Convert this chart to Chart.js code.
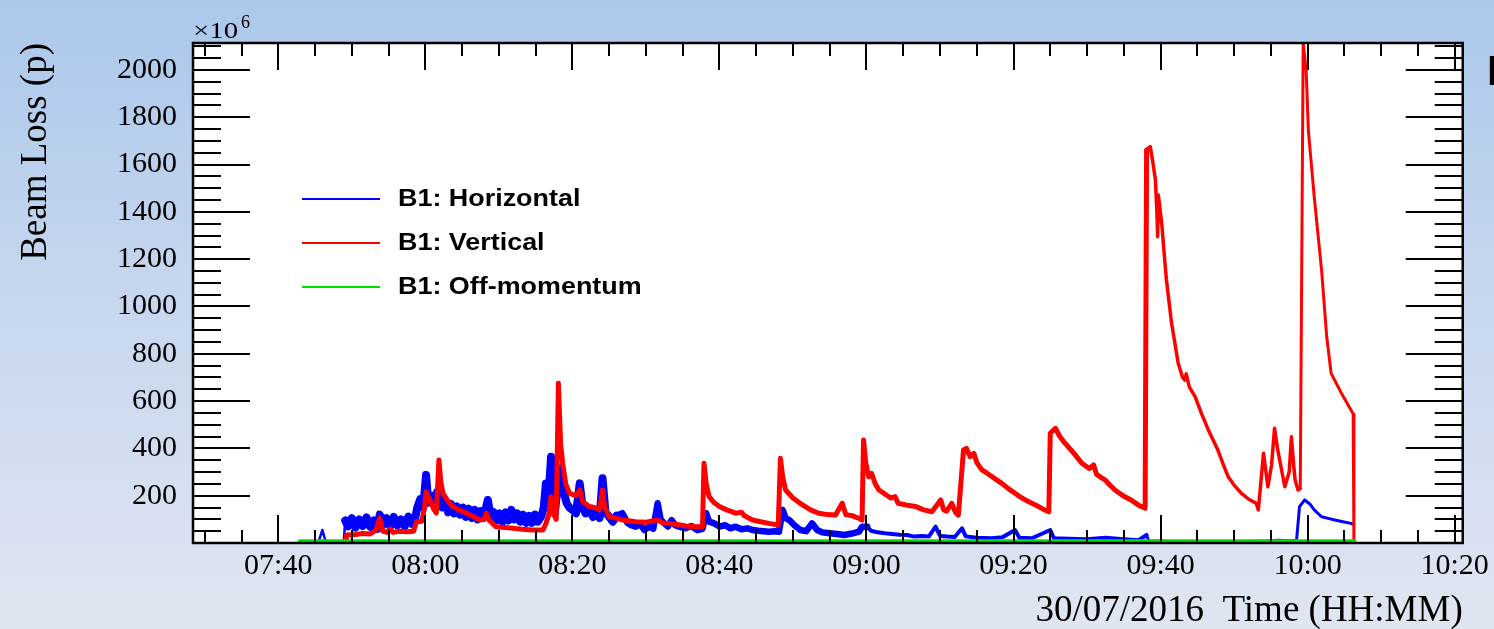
<!DOCTYPE html>
<html>
<head>
<meta charset="utf-8">
<script src="https://cdn.jsdelivr.net/npm/chart.js@4.4.1/dist/chart.umd.min.js"></script>
<style>
  html, body { margin: 0; padding: 0; overflow: hidden; }
  body { width: 1494px; height: 629px; background: linear-gradient(180deg, #abc8eb 0%, #c6d6ee 45%, #dfe6f1 100%); }
  #wrap { position: relative; width: 1494px; height: 629px; }
</style>
</head>
<body>
<div id="wrap"><canvas id="lossChart"></canvas></div>
<script>
// time in minutes since midnight, losses in units of 1e6 protons
const xTickValues = [460, 480, 500, 520, 540, 560, 580, 600, 620];
const yTickValues = [200, 400, 600, 800, 1000, 1200, 1400, 1600, 1800, 2000];
const seriesNames = ['B1: Horizontal', 'B1: Vertical', 'B1: Off-momentum'];
const seriesColors = ['#0000ff', '#ff0000', '#00e000'];

const horizontal = [
  [462.9, 3], [464.0, 6], [465.5, 8], [466.0, 55], [466.4, 10], [467.5, 6], [468.9, 4],
  [469.1, 95], [469.5, 70], [470.0, 105], [470.5, 65], [471.0, 100], [471.5, 72], [472.0, 108],
  [472.5, 68], [473.0, 95], [473.5, 60], [473.8, 120], [474.2, 75], [474.7, 105], [475.2, 70],
  [475.7, 110], [476.2, 75], [476.7, 100], [477.2, 70], [477.7, 112], [478.2, 80], [478.6, 100],
  [478.9, 150], [479.3, 185], [479.7, 150], [480.1, 288], [480.4, 170], [480.8, 200], [481.2, 165],
  [481.6, 215], [481.9, 190], [482.3, 150], [482.7, 180], [483.1, 130], [483.5, 165], [483.9, 125],
  [484.3, 155], [484.7, 120], [485.1, 150], [485.5, 110], [485.9, 145], [486.3, 105], [486.7, 140],
  [487.1, 100], [487.5, 135], [487.9, 105], [488.5, 182], [488.9, 110], [489.3, 130], [489.7, 95],
  [490.1, 125], [490.5, 90], [490.9, 130], [491.3, 95], [491.7, 140], [492.1, 100], [492.5, 125],
  [492.9, 90], [493.3, 120], [493.7, 85], [494.1, 115], [494.5, 85], [494.9, 120], [495.3, 90],
  [495.8, 115], [496.1, 150], [496.4, 252], [496.7, 170], [497.1, 365], [497.4, 190], [497.6, 126],
  [498.0, 230], [498.5, 316], [498.8, 220], [499.2, 170], [499.6, 150], [500.0, 140], [500.5, 126],
  [501.0, 252], [501.4, 150], [501.8, 125], [502.3, 140], [502.8, 110], [503.3, 125], [503.7, 105],
  [504.1, 274], [504.5, 130], [505.0, 111], [505.5, 90], [506.0, 115], [506.8, 126], [507.5, 85],
  [508.0, 75], [508.6, 69], [509.2, 80], [509.8, 55], [510.5, 70], [511.0, 60], [511.6, 168],
  [512.0, 100], [512.5, 83], [513.0, 70], [513.5, 97], [514.0, 75], [514.5, 69], [515.4, 62],
  [516.2, 72], [517.0, 55], [517.7, 60], [518.2, 126], [518.6, 90], [519.3, 83], [520.0, 70],
  [520.8, 75], [521.5, 62], [522.2, 69], [523.0, 58], [523.8, 62], [524.5, 55], [525.3, 52],
  [526.0, 50], [526.7, 48], [527.5, 50], [528.1, 48], [528.6, 140], [529.0, 105], [529.5, 97],
  [530.2, 75], [531.0, 55], [531.8, 50], [532.6, 83], [533.3, 55], [534.0, 45], [535.0, 41],
  [536.0, 38], [537.0, 34], [538.0, 40], [539.0, 48], [539.4, 69], [540.1, 69], [540.6, 52],
  [541.5, 45], [542.5, 41], [543.5, 38], [544.5, 35], [545.5, 34], [546.5, 27], [547.5, 30],
  [548.5, 28], [549.4, 69], [550.0, 30], [551.0, 27], [552.0, 25], [553.0, 62], [553.5, 28],
  [555.0, 22], [557.0, 20], [558.5, 24], [560.2, 55], [560.8, 22], [562.5, 20], [565.0, 55],
  [565.5, 20], [567.5, 18], [570.0, 16], [572.5, 22], [575.0, 16], [577.0, 12], [578.1, 34],
  [578.4, 8], [582.0, 6], [586.0, 5], [590.0, 5], [594.5, 8], [596.0, 12], [597.5, 10],
  [598.5, 12], [598.9, 154], [599.6, 182], [600.3, 165], [600.9, 140], [601.9, 111], [602.8, 104],
  [603.7, 97], [604.8, 90], [605.9, 83], [606.1, 80]
];

const vertical = [
  [469.2, 0], [469.3, 34], [470.5, 36], [471.5, 40], [472.5, 38], [473.3, 55], [473.8, 105],
  [474.2, 50], [474.8, 45], [475.2, 60], [475.6, 45], [476.5, 50], [477.5, 48], [478.4, 50],
  [478.8, 90], [479.5, 92], [479.9, 150], [480.1, 217], [480.6, 180], [481.2, 140], [481.5, 127],
  [481.85, 351], [482.1, 260], [482.4, 210], [483.0, 180], [483.7, 154], [484.6, 140], [485.6, 126],
  [486.5, 112], [487.4, 97], [488.0, 100], [488.3, 126], [488.7, 95], [489.6, 69], [490.8, 66],
  [491.9, 62], [493.2, 58], [494.6, 55], [496.0, 55], [496.4, 83], [496.8, 120], [497.1, 196],
  [497.5, 120], [497.8, 100], [498.1, 675], [498.4, 420], [498.7, 330], [499.1, 250], [499.6, 210],
  [500.5, 200], [501.0, 224], [501.4, 175], [502.3, 154], [503.0, 150], [503.7, 140], [504.1, 224],
  [504.4, 150], [505.0, 111], [506.0, 105], [506.8, 97], [508.6, 90], [510.0, 88], [511.6, 97],
  [512.3, 85], [513.2, 83], [514.3, 78], [515.4, 72], [516.5, 70], [517.7, 69], [517.9, 337],
  [518.2, 250], [518.6, 196], [519.3, 170], [520.0, 154], [521.0, 140], [522.2, 126], [523.0, 130],
  [523.4, 115], [524.5, 97], [525.6, 90], [526.7, 83], [528.0, 76], [528.3, 358], [528.6, 280],
  [529.0, 224], [530.0, 190], [531.3, 161], [532.4, 140], [533.5, 126], [534.7, 120], [535.8, 118],
  [536.7, 168], [537.2, 120], [538.1, 115], [539.0, 104], [539.4, 97], [539.6, 435], [539.9, 340],
  [540.3, 280], [540.7, 294], [541.2, 250], [541.7, 224], [542.6, 205], [543.3, 190], [543.9, 196],
  [544.3, 168], [545.5, 160], [546.7, 154], [547.8, 140], [548.9, 132], [550.1, 182], [550.5, 140],
  [550.9, 135], [551.6, 168], [552.1, 130], [552.5, 118], [553.2, 393], [553.6, 400], [554.1, 365],
  [554.6, 379], [555.0, 340], [555.7, 309], [556.4, 295], [557.1, 280], [557.8, 265], [558.4, 252],
  [559.3, 230], [560.2, 210], [560.9, 195], [561.6, 182], [562.5, 168], [563.4, 154], [564.1, 142],
  [564.8, 132], [565.0, 464], [565.7, 485], [566.3, 450], [567.0, 422], [568.2, 380], [569.3, 337],
  [570.3, 315], [570.9, 330], [571.3, 290], [572.0, 275], [572.5, 266], [573.1, 245], [573.8, 224],
  [574.9, 200], [576.1, 180], [577.0, 160], [577.9, 147], [578.1, 1662], [578.6, 1676], [579.0, 1600],
  [579.3, 1535], [579.5, 1400], [579.6, 1295], [579.7, 1471], [579.9, 1420], [580.2, 1337], [580.5, 1220],
  [580.8, 1112], [581.5, 929], [582.4, 760], [583.0, 700], [583.3, 689], [583.5, 715], [583.9, 660],
  [584.7, 619], [585.6, 545], [586.5, 478], [587.8, 393], [588.5, 335], [589.2, 280], [590.0, 245],
  [591.0, 210], [592.0, 185], [593.0, 168], [593.3, 140], [594.0, 379], [594.6, 238], [595.1, 330],
  [595.5, 485], [595.9, 400], [596.2, 351], [596.9, 238], [597.5, 300], [597.8, 449], [598.1, 330],
  [598.3, 266], [598.7, 224], [599.0, 230], [599.4, 2112], [599.8, 2000], [600.1, 1746], [600.9, 1464],
  [601.9, 1154], [602.6, 872], [603.2, 717], [604.6, 633], [605.9, 562], [606.2, 545], [606.3, 0]
];

const offMomentum = [
  [462.9, 8], [480.0, 8], [520.0, 8], [560.0, 8], [606.4, 8]
];

const toPoints = rows => rows.map(r => ({ x: r[0], y: r[1] }));
const hhmm = v => {
  const h = Math.floor(v / 60), m = Math.round(v - h * 60);
  return String(h).padStart(2, '0') + ':' + String(m).padStart(2, '0');
};

// the traces are noisy: the noise band is shown as a thicker stroke
const blueWidth = t => t < 469 ? 2.5 : t < 506 ? 8 : t < 540 ? 6.5 : t < 578 ? 4 : 3;
const redWidth = t => t < 578 ? 5 : t < 599 ? 3.5 : 3;

// ROOT-like frame: white pad, inward ticks on all four sides, legend and exponent
const rootFrame = {
  id: 'rootFrame',
  beforeDatasetsDraw(chart) {
    const { ctx, chartArea: a } = chart;
    ctx.save();
    ctx.fillStyle = '#ffffff';
    ctx.fillRect(a.left, a.top, a.right - a.left, a.bottom - a.top);
    ctx.restore();
  },
  afterDatasetsDraw(chart) {
    const { ctx, chartArea: a, scales } = chart;
    const xs = scales.x, ys = scales.y;
    ctx.save();
    ctx.strokeStyle = '#000';
    ctx.lineWidth = 2;
    ctx.beginPath();
    for (let v = 450; v <= xs.max; v += 5) {
      const px = Math.round(xs.getPixelForValue(v));
      const major = v % 20 === 0;
      ctx.moveTo(px, a.bottom); ctx.lineTo(px, a.bottom - (major ? 28 : 13));
      ctx.moveTo(px, a.top); ctx.lineTo(px, a.top + (major ? 27 : 13));
    }
    for (let v = 50; v <= ys.max; v += 50) {
      const py = Math.round(ys.getPixelForValue(v));
      const major = v % 200 === 0;
      ctx.moveTo(a.left, py); ctx.lineTo(a.left + (major ? 57 : 28), py);
      ctx.moveTo(a.right, py); ctx.lineTo(a.right - (major ? 57 : 28), py);
    }
    ctx.stroke();
    ctx.lineWidth = 2.5;
    ctx.strokeRect(a.left, a.top, a.right - a.left, a.bottom - a.top);

    // legend
    const rows = [199, 243, 287];
    seriesNames.forEach((name, i) => {
      ctx.strokeStyle = seriesColors[i];
      ctx.lineWidth = 2;
      ctx.beginPath();
      ctx.moveTo(302, rows[i]); ctx.lineTo(380, rows[i]);
      ctx.stroke();
      ctx.save();
      ctx.translate(398, rows[i]);
      ctx.scale(1.17, 1);
      ctx.fillStyle = '#000';
      ctx.font = 'bold 23px "Liberation Sans", Arial, sans-serif';
      ctx.textBaseline = 'middle';
      ctx.fillText(name, 0, 1);
      ctx.restore();
    });

    // exponent above the y axis
    ctx.fillStyle = '#000';
    ctx.textBaseline = 'alphabetic';
    ctx.save();
    ctx.translate(193, 38);
    ctx.scale(1.2, 1);
    ctx.font = '24px "Liberation Serif", "Times New Roman", serif';
    ctx.fillText('\u00d710', 0, 0);
    ctx.restore();
    ctx.font = '18px "Liberation Serif", "Times New Roman", serif';
    ctx.fillText('6', 241, 28);

    // clipped letter at the right edge
    ctx.font = 'bold 42px "Liberation Sans", Arial, sans-serif';
    ctx.fillText('B', 1487, 85);
    ctx.restore();
  }
};

const serif = '"Liberation Serif", "Times New Roman", serif';

new Chart(document.getElementById('lossChart'), {
  type: 'line',
  data: {
    datasets: [
      { label: seriesNames[2], data: toPoints(offMomentum), borderColor: seriesColors[2], borderWidth: 3.5 },
      {
        label: seriesNames[1], data: toPoints(vertical), borderColor: seriesColors[1], borderWidth: 3,
        segment: { borderWidth: c => redWidth(vertical[c.p0DataIndex][0]) }
      },
      {
        label: seriesNames[0], data: toPoints(horizontal), borderColor: seriesColors[0], borderWidth: 2.5,
        segment: { borderWidth: c => blueWidth(horizontal[c.p0DataIndex][0]) }
      }
    ]
  },
  options: {
    responsive: true,
    maintainAspectRatio: false,
    animation: false,
    parsing: false,
    elements: {
      point: { radius: 0 },
      line: { tension: 0, borderJoinStyle: 'round', borderCapStyle: 'round', fill: false }
    },
    layout: { padding: { top: 43, right: 29, left: 0, bottom: 0 } },
    plugins: { legend: { display: false }, tooltip: { enabled: false } },
    scales: {
      x: {
        type: 'linear',
        min: 448.4,
        max: 621.1,
        afterBuildTicks: s => { s.ticks = xTickValues.map(v => ({ value: v })); },
        afterFit: s => { s.height = 86; },
        grid: { display: false, drawTicks: false },
        border: { display: false },
        ticks: {
          callback: v => hhmm(v),
          color: '#000',
          font: { family: serif, size: 30 },
          padding: 5,
          maxRotation: 0,
          autoSkip: false
        },
        title: {
          display: true,
          text: '30/07/2016  Time (HH:MM)',
          align: 'end',
          color: '#000',
          font: { family: serif, size: 37 },
          padding: { top: 0, bottom: -4 }
        }
      },
      y: {
        type: 'linear',
        min: 0,
        max: 2114,
        afterBuildTicks: s => { s.ticks = yTickValues.map(v => ({ value: v })); },
        afterFit: s => { s.width = 193; },
        grid: { display: false, drawTicks: false },
        border: { display: false },
        ticks: {
          callback: v => String(v),
          color: '#000',
          font: { family: serif, size: 30 },
          padding: 16
        },
        title: {
          display: true,
          text: 'Beam Loss (p)',
          align: 'end',
          color: '#000',
          font: { family: serif, size: 37 },
          padding: { top: 14, bottom: 0 }
        }
      }
    }
  },
  plugins: [rootFrame]
});
</script>
</body>
</html>
